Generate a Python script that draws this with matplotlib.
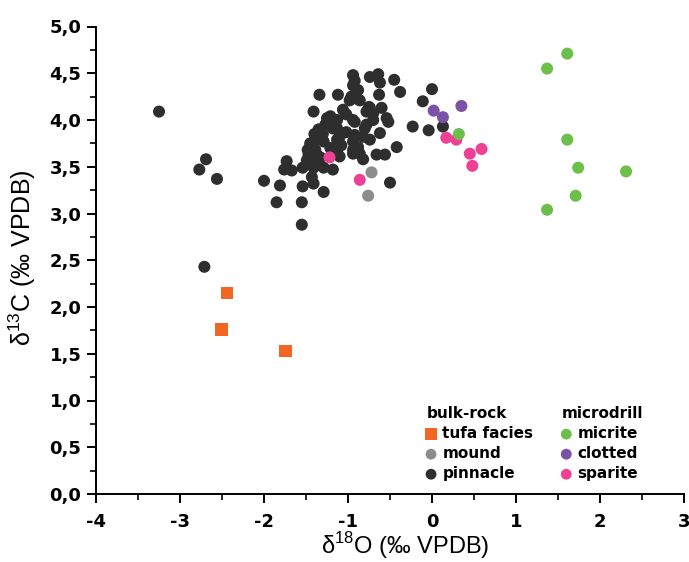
import matplotlib
matplotlib.use("Agg")
import matplotlib.pyplot as plt
from matplotlib.ticker import MultipleLocator, FuncFormatter

plt.rcParams["font.family"] = ["Liberation Sans", "DejaVu Sans"]
plt.rcParams["mathtext.fontset"] = "custom"
plt.rcParams["mathtext.rm"] = "Liberation Sans"

# bulk-rock samples
pinnacle_d18o = [-3.25, -2.69, -2.77, -2.56, -2.00, -1.81, -1.85, -1.73, -1.76, -1.67,
                 -1.55, -1.55, -1.54, -1.43, -1.41, -1.29, -1.54, -1.41, -1.29, -1.34,
                 -1.41, -1.25, -2.71, -0.94, -0.92, -0.74, -0.64, -0.62, -0.45, -0.38,
                 -1.12, -0.88, -0.63, -0.98, -0.90, -0.60, -0.75, -0.78, -1.06, -1.21,
                 -1.25, -0.94, -0.70, -0.54, -0.52, -1.13, -1.10, -0.80, -0.82, -0.62,
                 -0.94, -0.88, -0.74, -0.42, -0.94, -0.82, -0.66, -0.56, -1.10, -1.18,
                 -0.50, 0.00, -0.11, -0.23, -0.04, 0.13, -0.94, -0.96, -0.86, -0.74,
                 -0.70, -1.02, -1.13, -0.92, -0.78, -1.27, -1.18, -1.02, -0.92, -1.37,
                 -1.29, -1.13, -1.08, -1.45, -1.39, -1.21, -1.13, -0.94, -0.86, -1.47,
                 -1.41, -1.33, -1.45, -1.37, -1.49, -1.45, -1.40, -1.35, -1.30, -1.48,
                 -1.42, -1.35]
pinnacle_d13c = [4.09, 3.58, 3.47, 3.37, 3.35, 3.30, 3.12, 3.56, 3.47, 3.46,
                 3.12, 2.88, 3.29, 3.39, 3.32, 3.23, 3.49, 3.49, 3.49, 4.27,
                 4.09, 4.02, 2.43, 4.48, 4.42, 4.46, 4.49, 4.40, 4.43, 4.30,
                 4.27, 4.32, 4.27, 4.21, 4.23, 4.13, 4.14, 4.09, 4.11, 4.04,
                 3.96, 4.00, 4.00, 4.02, 3.98, 3.91, 3.82, 3.91, 3.82, 3.86,
                 3.77, 3.71, 3.79, 3.71, 3.64, 3.58, 3.63, 3.63, 3.61, 3.47,
                 3.33, 4.33, 4.20, 3.93, 3.89, 3.93, 4.37, 4.25, 4.21, 4.13,
                 4.07, 4.06, 4.00, 3.98, 3.95, 3.95, 3.91, 3.87, 3.84, 3.79,
                 3.77, 3.79, 3.73, 3.72, 3.68, 3.70, 3.66, 3.68, 3.64, 3.63,
                 3.59, 3.60, 3.60, 3.63, 3.57, 3.75, 3.85, 3.90, 3.85, 3.68,
                 3.55, 3.55]
mound_d18o = [-0.72, -0.76]
mound_d13c = [3.44, 3.19]
tufa_d18o = [-2.44, -2.51, -1.74]
tufa_d13c = [2.15, 1.76, 1.53]

# microdrill samples
micrite_d18o = [1.61, 1.37, 1.61, 1.74, 2.31, 1.71, 1.37, 0.32]
micrite_d13c = [4.71, 4.55, 3.79, 3.49, 3.45, 3.19, 3.04, 3.85]
clotted_d18o = [0.02, 0.13, 0.35]
clotted_d13c = [4.10, 4.03, 4.15]
sparite_d18o = [-1.22, -0.86, 0.17, 0.29, 0.45, 0.59, 0.48]
sparite_d13c = [3.60, 3.36, 3.81, 3.79, 3.64, 3.69, 3.51]

fig = plt.figure(figsize=(6.89, 5.62), dpi=100)
ax = fig.add_axes([96 / 689, 68 / 562, 588 / 689, 467.5 / 562])

dot = 75
h_pin = ax.scatter(pinnacle_d18o, pinnacle_d13c, s=dot, c="#2e2e2e", edgecolors="none",
                   label="pinnacle", zorder=3)
h_mound = ax.scatter(mound_d18o, mound_d13c, s=dot, c="#8c8c8c", edgecolors="none",
                     label="mound", zorder=4)
h_tufa = ax.scatter(tufa_d18o, tufa_d13c, s=85, marker="s", c="#f26522", edgecolors="none",
                    label="tufa facies", zorder=4)
h_clot = ax.scatter(clotted_d18o, clotted_d13c, s=dot, c="#7a52a8", edgecolors="none",
                    label="clotted", zorder=5)
h_spar = ax.scatter(sparite_d18o, sparite_d13c, s=dot, c="#ee4196", edgecolors="none",
                    label="sparite", zorder=5)
h_mic = ax.scatter(micrite_d18o, micrite_d13c, s=dot, c="#6cc04a", edgecolors="none",
                   label="micrite", zorder=6)

ax.set_xlim(-4, 3)
ax.set_ylim(0, 5)
ax.xaxis.set_major_locator(MultipleLocator(1))
ax.xaxis.set_minor_locator(MultipleLocator(0.5))
ax.yaxis.set_major_locator(MultipleLocator(0.5))
ax.yaxis.set_minor_locator(MultipleLocator(0.25))
ax.xaxis.set_major_formatter(FuncFormatter(lambda v, p: "%d" % round(v)))
ax.yaxis.set_major_formatter(FuncFormatter(lambda v, p: ("%.1f" % v).replace(".", ",")))

for side in ["top", "right"]:
    ax.spines[side].set_visible(False)
for side in ["left", "bottom"]:
    ax.spines[side].set_linewidth(1.4)
ax.tick_params(which="major", direction="out", length=6.5, width=1.4)
ax.tick_params(which="minor", direction="out", length=4, width=1.2)
ax.tick_params(axis="x", which="major", pad=7)
ax.tick_params(axis="y", which="major", pad=4)
for lab in ax.get_xticklabels() + ax.get_yticklabels():
    lab.set_fontfamily("DejaVu Sans")
    lab.set_fontweight("bold")
    lab.set_fontsize(13)

fig.text(405 / 689, 1 - 546 / 562, r"δ$^{18}$O (‰ VPDB)", fontsize=17,
         ha="center", va="center")
fig.text(22 / 689, 1 - 258 / 562, r"δ$^{13}$C (‰ VPDB)", fontsize=18,
         ha="center", va="center", rotation=90)

leg_kw = dict(loc="upper left", frameon=False,
              prop={"family": "DejaVu Sans", "weight": "bold", "size": 11},
              title_fontproperties={"family": "DejaVu Sans", "weight": "bold", "size": 11},
              alignment="left", handlelength=0.6, handletextpad=0.45, labelspacing=0.33,
              borderpad=0, borderaxespad=0, markerscale=0.9)
leg1 = ax.legend(handles=[h_tufa, h_mound, h_pin], title="bulk-rock",
                 bbox_to_anchor=(0.562, 0.188), **leg_kw)
ax.add_artist(leg1)
ax.legend(handles=[h_mic, h_clot, h_spar], title="microdrill",
          bbox_to_anchor=(0.792, 0.188), **leg_kw)

fig.savefig("out.png", dpi=100)
